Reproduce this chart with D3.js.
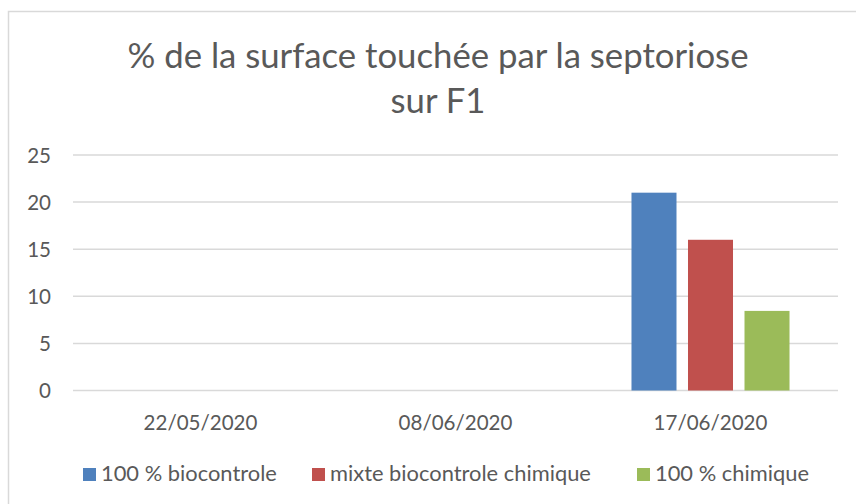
<!DOCTYPE html>
<html>
<head>
<meta charset="utf-8">
<script src="https://cdn.jsdelivr.net/npm/d3@7"></script>
<style>
  html, body { margin: 0; padding: 0; background: #ffffff; }
  svg { display: block; }
  text { font-family: Lato, "Open Sans", sans-serif; fill: #595959; }
</style>
</head>
<body>
<svg id="chart" width="856" height="504"></svg>
<script>
// ---- data ----
const categories = ["22/05/2020", "08/06/2020", "17/06/2020"];
const seriesNames = ["100 % biocontrole", "mixte biocontrole chimique", "100 % chimique"];
const seriesBiocontrole = [null, null, 21];
const seriesMixte = [null, null, 16];
const seriesChimique = [null, null, 8.45];
const yTicks = [0, 5, 10, 15, 20, 25];
const titleLines = ["% de la surface touchée par la septoriose", "sur F1"];

const seriesValues = [seriesBiocontrole, seriesMixte, seriesChimique];
const colors = ["#4f81bd", "#c0504d", "#9bbb59"];

const svg = d3.select("#chart");
const W = 856, H = 504;
const plot = { left: 73, right: 838, top: 155, bottom: 390.5 };

// helper: find a font size so a text reaches a target width
function fitSize(str, target, base) {
  const t = svg.append("text").attr("font-size", base).text(str);
  const w = t.node().getComputedTextLength();
  t.remove();
  return base * target / w;
}
const titleSize = fitSize(titleLines[0], 621, 36);
const axisSize = fitSize(categories[0], 114, 22);
const legendSize = fitSize(seriesNames[0], 176, 22);

// chart border (only top & left visible in the cropped reference)
svg.append("rect")
  .attr("x", 8.5).attr("y", 11.5)
  .attr("width", W + 20).attr("height", H + 20)
  .attr("fill", "none").attr("stroke", "#d9d9d9").attr("stroke-width", 1.5);

// scales
const x = d3.scaleBand().domain(categories).range([plot.left, plot.right]).padding(0);
const xSub = d3.scaleBand().domain(d3.range(seriesNames.length))
  .range([0, x.bandwidth()]).paddingInner(0.2035).paddingOuter(0.858);
const y = d3.scaleLinear().domain([0, 25]).range([plot.bottom, plot.top]);

// gridlines
svg.append("g").selectAll("line").data(yTicks).join("line")
  .attr("x1", plot.left).attr("x2", plot.right)
  .attr("y1", d => y(d)).attr("y2", d => y(d))
  .attr("stroke", "#d9d9d9").attr("stroke-width", 1.5);

// y axis labels
const yAxis = d3.axisLeft(y).tickValues(yTicks).tickSize(0).tickPadding(0);
const yg = svg.append("g").attr("transform", `translate(${plot.left - 22},0)`).call(yAxis);
yg.select(".domain").remove();
yg.selectAll("text").attr("font-size", axisSize).attr("font-family", "Lato, sans-serif")
  .attr("fill", "#595959").attr("dy", "0.35em");

// x axis labels
const xAxis = d3.axisBottom(x).tickSize(0).tickPadding(0);
const xg = svg.append("g").attr("transform", `translate(0,${plot.bottom})`).call(xAxis);
xg.select(".domain").remove();
xg.selectAll("text").attr("font-size", axisSize).attr("font-family", "Lato, sans-serif")
  .attr("fill", "#595959").attr("dy", null).attr("y", 39);

// bars
const groups = svg.append("g").selectAll("g").data(categories).join("g")
  .attr("transform", d => `translate(${x(d)},0)`);
groups.selectAll("rect")
  .data((d, ci) => seriesValues.map((s, si) => ({ si, v: s[ci] })).filter(o => o.v != null))
  .join("rect")
  .attr("x", d => xSub(d.si))
  .attr("width", xSub.bandwidth())
  .attr("y", d => y(d.v))
  .attr("height", d => y(0) - y(d.v))
  .attr("fill", d => colors[d.si]);

// title
const titleX = 438;
svg.append("text").attr("x", titleX).attr("y", 67.5)
  .attr("text-anchor", "middle").attr("font-size", titleSize).text(titleLines[0]);
svg.append("text").attr("x", titleX).attr("y", 112.5)
  .attr("text-anchor", "middle").attr("font-size", titleSize).text(titleLines[1]);

// legend
const legendX = [83, 312, 637];
const leg = svg.append("g").selectAll("g").data(seriesNames).join("g")
  .attr("transform", (d, i) => `translate(${legendX[i]},468)`);
leg.append("rect").attr("width", 13).attr("height", 13).attr("fill", (d, i) => colors[i]);
leg.append("text").attr("x", 18).attr("y", 13).attr("font-size", legendSize).text(d => d);
</script>
</body>
</html>
